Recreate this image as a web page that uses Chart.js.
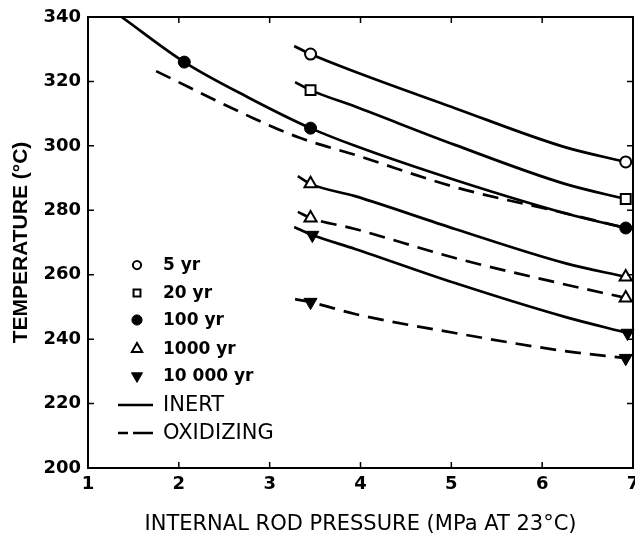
<!DOCTYPE html>
<html><head><meta charset="utf-8">
<script src="https://cdn.jsdelivr.net/npm/chart.js@4.4.1/dist/chart.umd.min.js"></script>
<style>html,body{margin:0;padding:0;background:#fff;overflow:hidden}#wrap{width:635px;height:535px;position:relative;overflow:hidden}canvas{display:block}</style>
</head><body><div id="wrap"><canvas id="c"></canvas></div>
<script>
// ---- axis ticks / titles ----
const xTickValues=[1,2,3,4,5,6,7];
const yTickValues=[200,220,240,260,280,300,320,340];
const xAxisTitle='INTERNAL ROD PRESSURE (MPa AT 23°C)';
const yAxisTitle='TEMPERATURE (°C)';
const legendYears=['5 yr','20 yr','100 yr','1000 yr','10 000 yr'];
const legendAtmos=['INERT','OXIDIZING'];

// ---- curves: pressure (MPa) / temperature (°C) ----
const inert5P=[3.27,3.45,3.94,5.04,6.25,6.92];
const inert5T=[331.0,328.5,323.0,311.7,299.6,295.0];
const inert20P=[3.28,3.45,3.94,5.04,6.25,6.92];
const inert20T=[319.8,317.3,312.2,300.3,288.2,283.5];
const inert100P=[1.37,2.06,2.78,3.45,3.94,5.04,6.25,6.92];
const inert100T=[340.0,326.0,314.8,305.5,300.0,289.4,279.1,274.5];
const oxid100P=[1.75,2.82,3.33,3.94,5.04,6.25,6.92];
const oxid100T=[323.2,308.6,302.5,297.2,287.2,279.1,274.5];
const inert1000P=[3.31,3.45,3.94,5.04,6.25,6.92];
const inert1000T=[290.6,288.2,284.4,274.2,263.6,259.3];
const oxid1000P=[3.31,3.45,3.94,5.04,6.14,6.92];
const oxid1000T=[279.5,277.6,274.2,265.2,257.7,252.8];
const inert10000P=[3.27,3.47,3.94,5.04,6.25,6.94];
const inert10000T=[274.8,272.3,268.0,257.4,246.9,241.9];
const oxid10000P=[3.28,3.45,3.94,5.04,6.25,6.92];
const oxid10000T=[252.4,251.5,247.8,241.9,236.3,234.1];

// ---- markers ----
const mark5P=[3.45,6.92],           mark5T=[328.5,295.0];
const mark20P=[3.45,6.92],          mark20T=[317.3,283.5];
const mark100P=[2.06,3.45,6.92],    mark100T=[326.0,305.5,274.5];
const mark1000P=[3.45,6.92,3.45,6.92],   mark1000T=[288.2,259.3,277.6,252.8];
const mark10000P=[3.47,6.94,3.45,6.92],  mark10000T=[272.3,241.9,251.5,234.1];

const pts=(P,T)=>P.map((p,i)=>({x:p,y:T[i]}));

const lineBase={type:'line',showLine:true,pointRadius:0,borderColor:'#000',borderWidth:2.7,
  cubicInterpolationMode:'monotone',fill:false,order:2};
const solid=(P,T)=>Object.assign({},lineBase,{data:pts(P,T)});
const dashed=(P,T)=>Object.assign({},lineBase,{data:pts(P,T),borderDash:[16,9]});

const markerStyles=[
  {pointStyle:'circle',radius:5.5,rotation:0,backgroundColor:'#fff',borderWidth:2},
  {pointStyle:'rect',radius:7,rotation:0,backgroundColor:'#fff',borderWidth:2},
  {pointStyle:'circle',radius:6,rotation:0,backgroundColor:'#000',borderWidth:1},
  {pointStyle:'triangle',radius:7,rotation:0,backgroundColor:'#fff',borderWidth:2},
  {pointStyle:'triangle',radius:7.5,rotation:180,backgroundColor:'#000',borderWidth:1}
];
const markerData=[[mark5P,mark5T],[mark20P,mark20T],[mark100P,mark100T],[mark1000P,mark1000T],[mark10000P,mark10000T]];
const markerSets=markerData.map((m,i)=>{const s=markerStyles[i];return{
  type:'scatter',label:legendYears[i],data:pts(m[0],m[1]),showLine:false,order:0,clip:false,
  pointStyle:s.pointStyle,pointRadius:s.radius,pointRotation:s.rotation,
  pointBackgroundColor:s.backgroundColor,pointBorderColor:'#000',pointBorderWidth:s.borderWidth}});

const datasets=[
  solid(inert5P,inert5T),solid(inert20P,inert20T),solid(inert100P,inert100T),dashed(oxid100P,oxid100T),
  solid(inert1000P,inert1000T),dashed(oxid1000P,oxid1000T),solid(inert10000P,inert10000T),dashed(oxid10000P,oxid10000T),
  ...markerSets
];

// frame with inward ticks
const framePlugin={id:'frame',afterDatasetsDraw(chart){
  const ctx=chart.ctx,a=chart.chartArea,xs=chart.scales.x,ys=chart.scales.y,L=6;
  ctx.save();ctx.strokeStyle='#000';ctx.lineWidth=2;
  ctx.strokeRect(a.left,a.top,a.right-a.left,a.bottom-a.top);
  ctx.lineWidth=1.5;ctx.beginPath();
  xs.ticks.forEach(t=>{const x=xs.getPixelForValue(t.value);
    ctx.moveTo(x,a.bottom);ctx.lineTo(x,a.bottom-L);ctx.moveTo(x,a.top);ctx.lineTo(x,a.top+L);});
  ys.ticks.forEach(t=>{const y=ys.getPixelForValue(t.value);
    ctx.moveTo(a.left,y);ctx.lineTo(a.left+L,y);ctx.moveTo(a.right,y);ctx.lineTo(a.right-L,y);});
  ctx.stroke();ctx.restore();
}};

// legend drawn inside plot area
const legendPlugin={id:'inlineLegend',afterDraw(chart){
  const ctx=chart.ctx,a=chart.chartArea;
  const sx=a.left+49,tx=a.left+75;
  const rows=[265,293,320,349,376,405,433];
  ctx.save();ctx.fillStyle='#000';ctx.strokeStyle='#000';ctx.textBaseline='middle';ctx.textAlign='left';
  const legendMarkerScale=[0.75,0.7,0.85,0.85,0.85];
  legendYears.forEach((lab,i)=>{
    const s=markerStyles[i];
    ctx.fillStyle=s.backgroundColor;ctx.strokeStyle='#000';ctx.lineWidth=s.borderWidth;
    Chart.helpers.drawPoint(ctx,{pointStyle:s.pointStyle,radius:s.radius*legendMarkerScale[i],rotation:s.rotation,borderWidth:s.borderWidth},sx,rows[i]);
    ctx.fillStyle='#000';ctx.font='bold 17px "DejaVu Sans"';
    ctx.fillText(lab,tx,rows[i]+1);
  });
  ctx.lineWidth=2.6;ctx.strokeStyle='#000';
  ctx.beginPath();ctx.moveTo(sx-19,rows[5]);ctx.lineTo(sx+16,rows[5]);ctx.stroke();
  ctx.beginPath();ctx.moveTo(sx-19,rows[6]);ctx.lineTo(sx-9,rows[6]);ctx.moveTo(sx-4,rows[6]);ctx.lineTo(sx+16,rows[6]);ctx.stroke();
  ctx.font='21px "DejaVu Sans"';ctx.fillStyle='#000';
  ctx.fillText(legendAtmos[0],tx,rows[5]+1);
  ctx.fillText(legendAtmos[1],tx,rows[6]+1);
  ctx.restore();
}};

const noPadding=()=>({left:0,top:0,right:0,bottom:0});

new Chart(document.getElementById('c'),{
  data:{datasets},
  options:{
    responsive:true,maintainAspectRatio:false,animation:false,
    layout:{autoPadding:false,padding:{top:17,right:2,bottom:0,left:0}},
    plugins:{legend:{display:false},tooltip:{enabled:false}},
    scales:{
      x:{type:'linear',min:1,max:7,
        afterBuildTicks:s=>{s.ticks=xTickValues.map(v=>({value:v}));},
        afterFit:s=>{s.height=67;s.paddingLeft=0;s.paddingRight=0;s.getPadding=noPadding;},
        grid:{display:false,drawTicks:false},border:{display:false},
        ticks:{color:'#000',padding:6,font:{family:'"DejaVu Sans"',weight:'bold',size:18},maxRotation:0,autoSkip:false},
        title:{display:true,text:xAxisTitle,color:'#000',font:{family:'"DejaVu Sans"',size:21,lineHeight:1},padding:{top:0,bottom:0}}},
      y:{type:'linear',min:200,max:340,
        afterBuildTicks:s=>{s.ticks=yTickValues.map(v=>({value:v}));},
        afterFit:s=>{s.width=88;s.paddingTop=0;s.paddingBottom=0;s.getPadding=noPadding;},
        grid:{display:false,drawTicks:false},border:{display:false},
        ticks:{color:'#000',padding:7,font:{family:'"DejaVu Sans"',weight:'bold',size:18},autoSkip:false},
        title:{display:true,text:yAxisTitle,color:'#000',font:{family:'"Liberation Sans"',weight:'bold',size:21,lineHeight:1.2},padding:{top:9,bottom:0}}}
    }
  },
  plugins:[framePlugin,legendPlugin]
});
</script></body></html>
